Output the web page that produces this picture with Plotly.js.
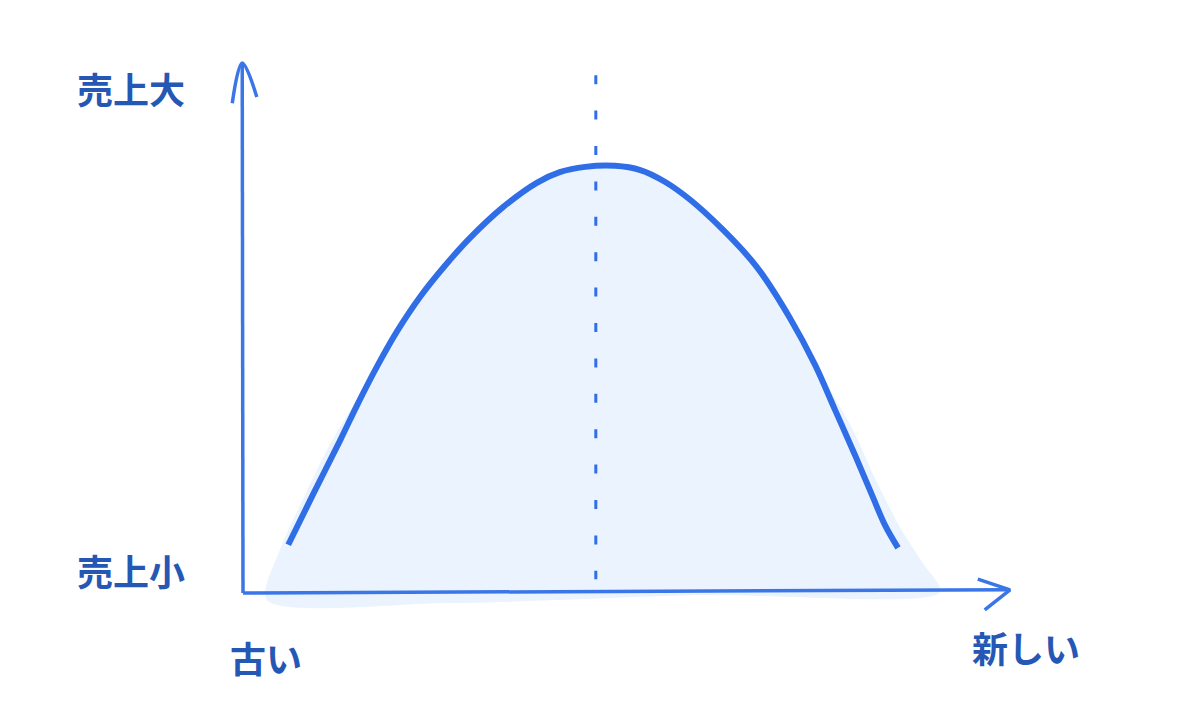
<!DOCTYPE html>
<html>
<head>
<meta charset="utf-8">
<script src="https://cdn.plot.ly/plotly-3.0.1.min.js"></script>
<style>html,body{margin:0;padding:0;background:#fff;}#chart{width:1200px;height:725px;}</style>
</head>
<body>
<div id="chart"></div>
<script>
// Product-life (sales) curve, abstract units: x = age (0 old .. 100 new), y = sales (0 small .. 100 large)
const curveX = [5.9, 9.1, 12.7, 14.9, 17.5, 20.1, 23.1, 26.3, 29.6, 33.9, 38.3, 41.3, 44.6, 48.5, 51.8, 55.0, 58.3, 62.6, 67.0, 71.3, 74.6, 77.2, 79.8, 82.0, 83.7, 85.4];
const curveY = [9.1, 18.5, 28.9, 35.5, 42.8, 49.4, 55.9, 61.7, 67.0, 72.8, 77.4, 79.4, 80.4, 80.6, 79.8, 77.6, 74.2, 68.5, 61.5, 51.9, 43.0, 34.5, 26.0, 18.5, 12.8, 8.5];

// soft fill area behind the curve
const fillX = [3.1, 4.8, 8.1, 11.3, 17.5, 20.1, 23.1, 26.3, 29.6, 33.9, 38.3, 41.3, 44.6, 48.5, 51.8, 55.0, 58.3, 62.6, 67.0, 71.3, 74.6, 79.5, 82.5, 85.7, 88.5, 90.9, 59.6, 27.0, 3.1];
const fillY = [-1.3, 8.1, 18.5, 27.9, 42.8, 49.4, 55.9, 61.7, 67.0, 72.8, 77.4, 79.4, 80.4, 80.6, 79.8, 77.6, 74.2, 68.5, 61.5, 51.9, 43.0, 30.8, 21.3, 12.3, 5.9, 0.2, -0.4, -1.9, -1.3];

// peak marker (dashed vertical)
const peakX = [46.0, 46.0];
const peakY = [97.7, 2.6];

// axes with arrowheads
const yAxisX = [0, -0.1];
const yAxisY = [0, 100];
const yArrowX = [-1.4, -0.1, 1.8];
const yArrowY = [92.4, 100, 93.6];
const xAxisX = [0, 100];
const xAxisY = [0, 0.6];
const xArrowX = [95.8, 100, 96.7];
const xArrowY = [2.6, 0.6, -3.2];

// labels
const labelText = ['売上大', '売上小', '古い', '新しい'];
const labelX = [-14.6, -14.6, 3.0, 102.1];
const labelY = [95.3, 4.3, -12.1, -10.2];

const axisColor = 'rgb(58,118,232)';
const curveColor = 'rgb(47,110,230)';
const textColor = 'rgb(36,88,180)';

const traces = [
  {x: fillX, y: fillY, mode: 'lines', fill: 'toself', fillcolor: 'rgb(235,243,254)',
   line: {width: 0, shape: 'spline', smoothing: 0.8}, hoverinfo: 'skip'},
  {x: yAxisX, y: yAxisY, mode: 'lines', line: {color: axisColor, width: 3.5}, hoverinfo: 'skip'},
  {x: yArrowX, y: yArrowY, mode: 'lines', line: {color: axisColor, width: 3.5, shape: 'spline'}, hoverinfo: 'skip'},
  {x: xAxisX, y: xAxisY, mode: 'lines', line: {color: axisColor, width: 3.5}, hoverinfo: 'skip'},
  {x: xArrowX, y: xArrowY, mode: 'lines', line: {color: axisColor, width: 3.5}, hoverinfo: 'skip'},
  {x: peakX, y: peakY, mode: 'lines', line: {color: curveColor, width: 3, dash: '9px,26.4px'}, hoverinfo: 'skip'},
  {x: curveX, y: curveY, mode: 'lines', line: {color: curveColor, width: 6, shape: 'spline', smoothing: 1}, hoverinfo: 'skip'}
];

const annotations = labelText.map((t, i) => ({
  x: labelX[i], y: labelY[i], xref: 'x', yref: 'y', text: '<b>' + t + '</b>', showarrow: false,
  font: {family: 'Noto Sans CJK JP, sans-serif', size: 36, color: textColor}
}));

const layout = {
  width: 1200, height: 725,
  margin: {l: 0, r: 0, t: 0, b: 0},
  paper_bgcolor: '#ffffff', plot_bgcolor: '#ffffff',
  showlegend: false,
  xaxis: {range: [-31.68, 124.77], visible: false, fixedrange: true},
  yaxis: {range: [-24.91, 111.89], visible: false, fixedrange: true},
  annotations: annotations
};

Plotly.newPlot('chart', traces, layout, {displayModeBar: false, staticPlot: true});
</script>
</body>
</html>
